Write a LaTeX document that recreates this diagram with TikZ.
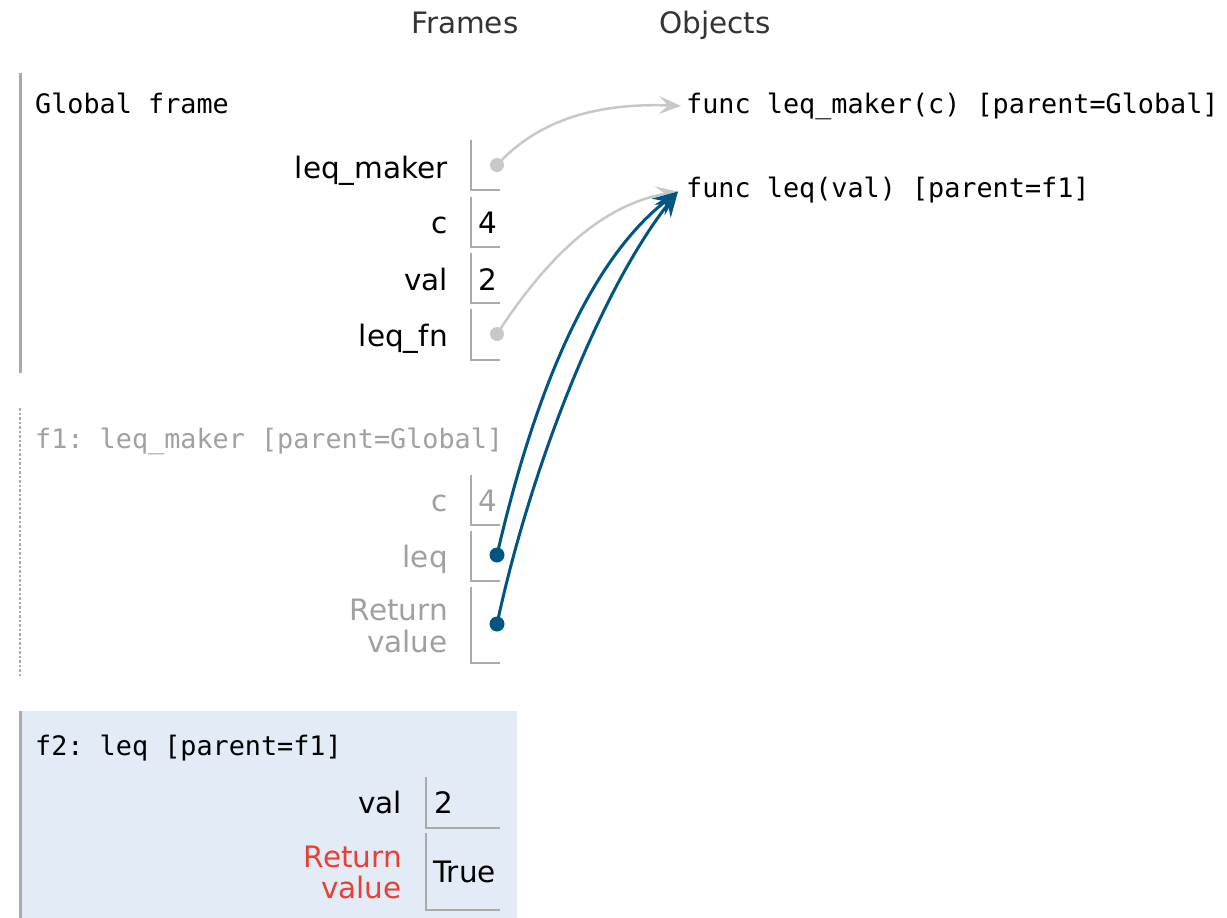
\documentclass[tikz,border=0pt]{standalone}
\usepackage{fontspec}
\setsansfont{DejaVu Sans}
\setmonofont{DejaVu Sans Mono}
\usetikzlibrary{arrows.meta}

\definecolor{headtext}{HTML}{333333}
\definecolor{frameline}{HTML}{AAAAAA}
\definecolor{boxline}{HTML}{AAAAAA}
\definecolor{fadedtext}{HTML}{A0A0A0}
\definecolor{activebg}{HTML}{E2EBF6}
\definecolor{ptrblue}{HTML}{005583}
\definecolor{ptrgrey}{HTML}{C8C8C8}
\definecolor{retred}{HTML}{E93F34}

\begin{document}
\begin{tikzpicture}[x=1pt,y=-1pt,
  head/.style={font=\fontsize{29.5}{32}\sffamily, text=headtext, inner sep=0, anchor=base west},
  lbl/.style={font=\fontsize{29.5}{32}\sffamily, inner sep=0, anchor=base east},
  valtxt/.style={font=\fontsize{29.5}{32}\sffamily, inner sep=0, anchor=base west},
  mono/.style={font=\fontsize{26.8}{30}\ttfamily, inner sep=0, anchor=base west},
  faded/.style={text=fadedtext},
  vbox/.style={draw=boxline, line width=2.5pt},
  gdot/.style={circle, fill=ptrgrey, inner sep=0, minimum size=14pt},
  bdot/.style={circle, fill=ptrblue, inner sep=0, minimum size=15pt},
  gptr/.style={draw=ptrgrey, line width=2.5pt,
    -{Stealth[length=22pt, width=18pt, inset=9pt]}},
  bptr/.style={draw=ptrblue, line width=3pt,
    -{Stealth[length=25pt, width=21pt, inset=9pt]}},
]
\useasboundingbox (0,0) rectangle (1227,918);

% column headers
\node[head] (hframes) at (411,33) {Frames};
\node[head] (hobjects) at (659,33) {Objects};

% ---------- Global frame ----------
\draw[frameline, line width=3pt] (20,73) -- (20,373);
\node[mono] (gtitle) at (35,113) {Global frame};

\node[lbl] (gl1) at (448,178) {leq\_maker};
\draw[vbox] (471,140) |- (500,190);
\node[gdot] (gd1) at (497,165) {};

\node[lbl] (gl2) at (448,233) {c};
\draw[vbox] (471,197) |- (500,247);
\node[valtxt] (gv2) at (478,233) {4};

\node[lbl] (gl3) at (448,290) {val};
\draw[vbox] (471,253) |- (500,303);
\node[valtxt] (gv3) at (478,290) {2};

\node[lbl] (gl4) at (448,346) {leq\_fn};
\draw[vbox] (471,309) |- (500,360);
\node[gdot] (gd4) at (497,334) {};

% ---------- f1 frame (returned) ----------
\draw[frameline, line width=2.5pt, dotted] (20,408) -- (20,677);
\node[mono, faded] (f1title) at (35,448) {f1: leq\_maker [parent=Global]};

\node[lbl, faded] (fl1) at (448,511) {c};
\draw[vbox] (471,475) |- (500,525);
\node[valtxt, faded] (fv1) at (478,511) {4};

\node[lbl, faded] (fl2) at (448,567) {leq};
\draw[vbox] (471,531) |- (500,581);
\node[bdot] (fd2) at (497,555) {};

\node[lbl, faded] (fl3a) at (448,620) {Return};
\node[lbl, faded] (fl3b) at (448,652) {value};
\draw[vbox] (471,587) |- (500,663);
\node[bdot] (fd3) at (497,624) {};

% ---------- f2 frame (active) ----------
\fill[activebg] (19,711) rectangle (517,918);
\draw[frameline, line width=3pt] (20,711) -- (20,918);
\node[mono] (f2title) at (35,755) {f2: leq [parent=f1]};

\node[lbl] (hl1) at (402,813) {val};
\draw[vbox] (426,777) |- (500,828);
\node[valtxt] (hv1) at (434,813) {2};

\node[lbl, text=retred] (hl2a) at (402,867) {Return};
\node[lbl, text=retred] (hl2b) at (402,898) {value};
\draw[vbox] (426,833) |- (500,910);
\node[valtxt] (hv2) at (433,882) {True};

% ---------- heap objects ----------
\node[mono] (obj1) at (686,113) {func leq\_maker(c) [parent=Global]};
\node[mono] (obj2) at (686,197) {func leq(val) [parent=f1]};
\coordinate (t1) at ([xshift=-5pt]obj1.west);
\coordinate (t2) at ([xshift=-8pt, yshift=-2pt]obj2.west);

% ---------- pointers ----------
\draw[gptr] (gd1.center) .. controls (540,118) and (600,103) .. (t1);
\draw[gptr] (gd4.center) .. controls (545,260) and (600,205) .. (t2);
\draw[bptr] (fd2.center) .. controls (535,390) and (590,260) .. (t2);
\draw[bptr] (fd3.center) .. controls (530,470) and (600,290) .. (t2);
\end{tikzpicture}
\end{document}
